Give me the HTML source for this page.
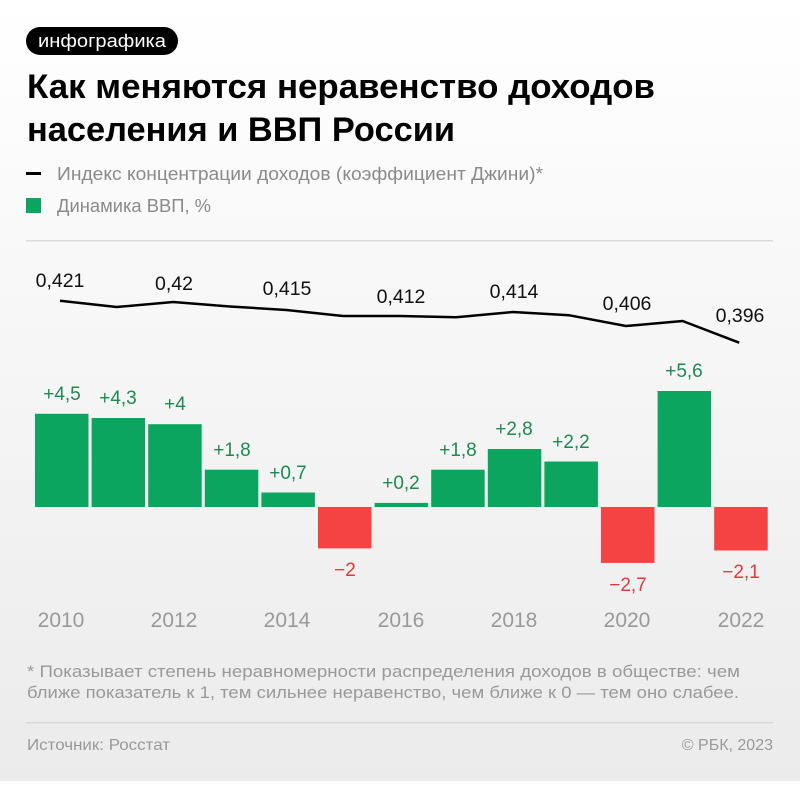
<!DOCTYPE html>
<html><head><meta charset="utf-8"><style>
html,body{margin:0;padding:0;}
body{width:800px;height:781px;overflow:hidden;}
svg text{font-family:"Liberation Sans",sans-serif;}
</style></head><body>
<svg width="800" height="781" viewBox="0 0 800 781" xmlns="http://www.w3.org/2000/svg">
<defs><linearGradient id="bg" x1="0" y1="0" x2="0" y2="1"><stop offset="0" stop-color="#ffffff"/><stop offset="1" stop-color="#ebebeb"/></linearGradient></defs>
<rect width="800" height="781" fill="url(#bg)"/>
<rect x="26" y="27" width="152" height="28" rx="14" fill="#000"/>
<text x="38" y="47" font-size="18" fill="#fff" textLength="128" lengthAdjust="spacingAndGlyphs">инфографика</text>
<text x="27" y="98" font-size="34" font-weight="bold" fill="#000" textLength="628" lengthAdjust="spacingAndGlyphs">Как меняются неравенство доходов</text>
<text x="27" y="141" font-size="34" font-weight="bold" fill="#000" textLength="428" lengthAdjust="spacingAndGlyphs">населения и ВВП России</text>
<rect x="26" y="172" width="15" height="3" fill="#000"/>
<text x="57" y="180" font-size="18" fill="#8a8a8a" textLength="486" lengthAdjust="spacingAndGlyphs">Индекс концентрации доходов (коэффициент Джини)*</text>
<rect x="26" y="198" width="15" height="15" fill="#0ba55f"/>
<text x="57" y="212" font-size="18" fill="#8a8a8a" textLength="154" lengthAdjust="spacingAndGlyphs">Динамика ВВП, %</text>
<rect x="26" y="240" width="747" height="1.5" fill="#dcdcdc"/>
<polyline fill="none" stroke="#000" stroke-width="2.5" stroke-linejoin="round" points="60,300.7 116.6,307 173.2,302 229.8,306.5 286.4,310 343,316 399.6,316 456.2,317.3 512.8,312 569.4,315.3 626,326 682.6,321 739.2,342.7"/>
<g font-size="19.5" fill="#111" text-anchor="middle">
<text x="60" y="287">0,421</text><text x="174" y="290">0,42</text><text x="287" y="295">0,415</text><text x="401" y="303">0,412</text><text x="514" y="298">0,414</text><text x="627" y="310">0,406</text><text x="740" y="322">0,396</text>
</g>
<g>
<rect x="35" y="413.8" width="53.5" height="93.2" fill="#0ba55f"/>
<rect x="91.6" y="418" width="53.5" height="89" fill="#0ba55f"/>
<rect x="148.2" y="424.2" width="53.5" height="82.8" fill="#0ba55f"/>
<rect x="204.8" y="469.7" width="53.5" height="37.3" fill="#0ba55f"/>
<rect x="261.4" y="492.5" width="53.5" height="14.5" fill="#0ba55f"/>
<rect x="318" y="507" width="53.5" height="41.4" fill="#f54242"/>
<rect x="374.6" y="502.9" width="53.5" height="4.1" fill="#0ba55f"/>
<rect x="431.2" y="469.7" width="53.5" height="37.3" fill="#0ba55f"/>
<rect x="487.8" y="449" width="53.5" height="58" fill="#0ba55f"/>
<rect x="544.4" y="461.5" width="53.5" height="45.5" fill="#0ba55f"/>
<rect x="601" y="507" width="53.5" height="55.9" fill="#f54242"/>
<rect x="657.6" y="391" width="53.5" height="116" fill="#0ba55f"/>
<rect x="714.2" y="507" width="53.5" height="43.5" fill="#f54242"/>
</g>
<g font-size="19" fill="#1d8a52" text-anchor="middle">
<text x="62" y="400">+4,5</text><text x="118" y="404">+4,3</text><text x="175" y="410">+4</text><text x="232" y="456">+1,8</text><text x="288" y="479">+0,7</text><text x="401" y="489">+0,2</text><text x="458" y="456">+1,8</text><text x="514" y="435">+2,8</text><text x="571" y="448">+2,2</text><text x="684" y="377">+5,6</text>
</g>
<g font-size="19" fill="#e03a3a" text-anchor="middle">
<text x="345" y="576">−2</text><text x="628" y="591">−2,7</text><text x="741" y="578">−2,1</text>
</g>
<g font-size="21" fill="#999" text-anchor="middle">
<text x="61" y="627">2010</text><text x="174" y="627">2012</text><text x="287" y="627">2014</text><text x="401" y="627">2016</text><text x="514" y="627">2018</text><text x="627" y="627">2020</text><text x="741" y="627">2022</text>
</g>
<text x="27" y="677" font-size="17" fill="#999" textLength="713" lengthAdjust="spacingAndGlyphs">* Показывает степень неравномерности распределения доходов в обществе: чем</text>
<text x="27" y="698" font-size="17" fill="#999" textLength="712" lengthAdjust="spacingAndGlyphs">ближе показатель к 1, тем сильнее неравенство, чем ближе к 0 — тем оно слабее.</text>
<rect x="26" y="722" width="747" height="1.5" fill="#d8d8d8"/>
<text x="27" y="750" font-size="16" fill="#999" textLength="143" lengthAdjust="spacingAndGlyphs">Источник: Росстат</text>
<text x="773" y="750" font-size="16" fill="#999" text-anchor="end">© РБК, 2023</text>
</svg>
</body></html>
